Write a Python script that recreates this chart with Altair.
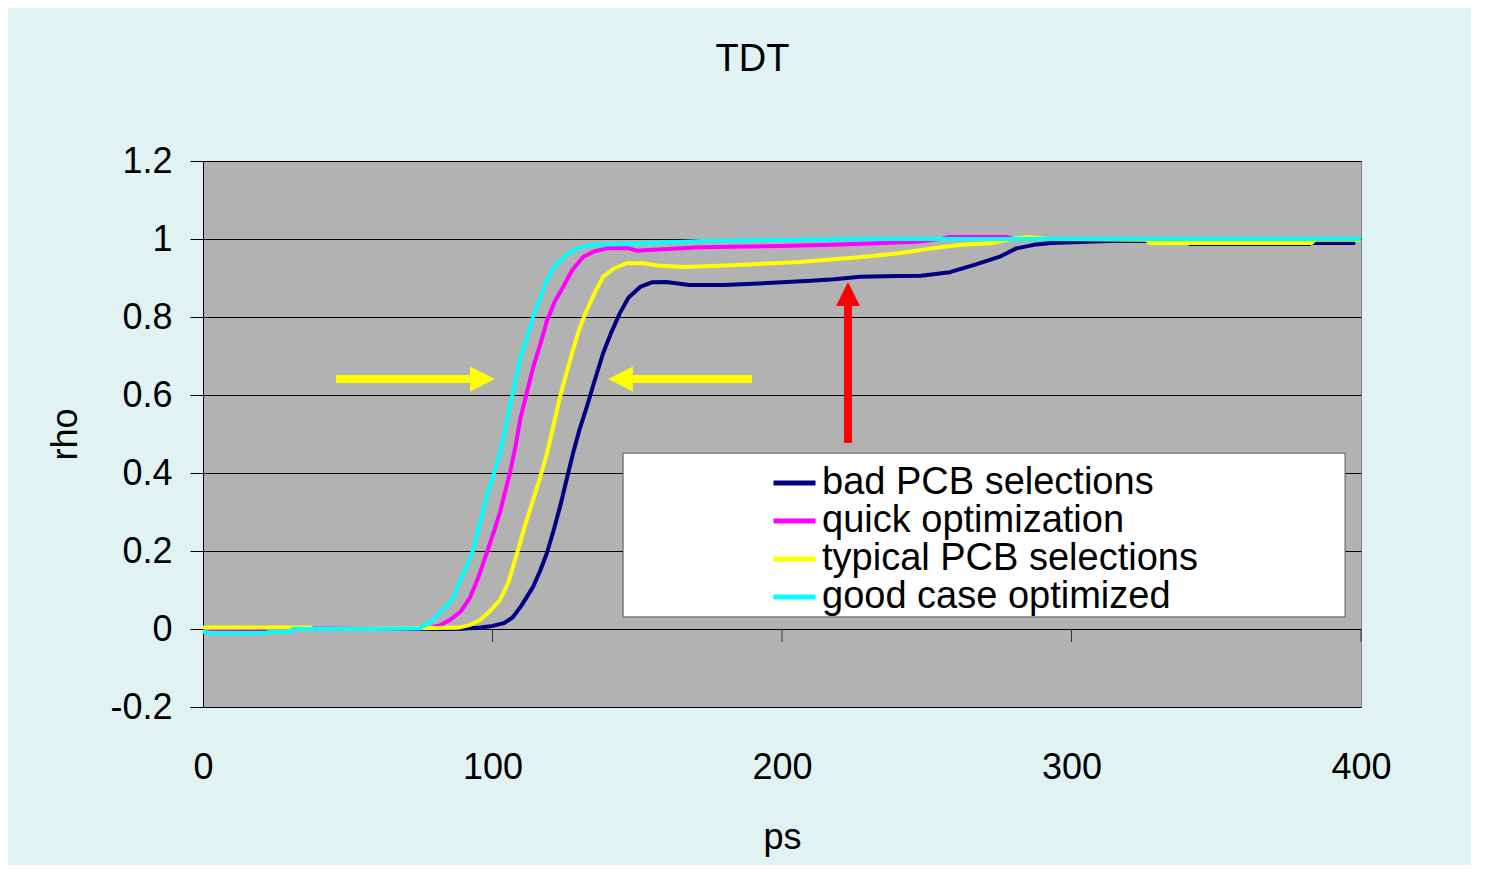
import altair as alt
import pandas as pd

# ---------------- data ----------------
series_names = ["bad PCB selections", "quick optimization",
                "typical PCB selections", "good case optimized"]
series_colors = ["#000080", "#FF00FF", "#FFFF00", "#00FFFF"]

ps_bad = [0, 88, 96, 100, 104, 107, 110, 114, 116.5, 118.8, 121, 123.3, 125.5,
          127.8, 130, 132.6, 135, 138.2, 141, 144, 147, 151, 155, 160, 168, 180,
          195, 210, 218, 227, 240, 248, 258, 267, 275, 281, 287, 293, 313, 340,
          341, 382, 383, 398]
rho_bad = [0, 0, 0.004, 0.008, 0.015, 0.03, 0.06, 0.108, 0.15, 0.195, 0.25, 0.313,
           0.38, 0.45, 0.51, 0.57, 0.63, 0.707, 0.76, 0.81, 0.85, 0.877, 0.889,
           0.89, 0.882, 0.882, 0.887, 0.893, 0.897, 0.903, 0.905, 0.906, 0.915,
           0.935, 0.954, 0.976, 0.985, 0.99, 0.995, 0.995, 0.987, 0.987, 0.99,
           0.99]

ps_quick = [0, 78, 82, 85.3, 89, 92.2, 95, 98, 100.5, 102.6, 106, 108, 109.5, 112,
            114, 116.5, 118.8, 121.5, 124.4, 127.5, 131.3, 135, 139.5, 147, 150,
            154, 171.7, 200, 217.6, 235, 246.6, 255, 258, 278, 280, 400]
rho_quick = [0, 0.002, 0.01, 0.023, 0.045, 0.08, 0.13, 0.195, 0.25, 0.30, 0.40,
             0.47, 0.535, 0.61, 0.67, 0.73, 0.79, 0.84, 0.877, 0.92, 0.954, 0.968,
             0.976, 0.976, 0.97, 0.972, 0.979, 0.982, 0.985, 0.99, 0.993, 1.0,
             1.005, 1.005, 1.0, 1.0]

ps_typ = [0, 37, 38, 88, 92, 95.7, 99, 102.6, 105.5, 108.5, 111, 114, 116.5,
          118.8, 121, 123.3, 125.5, 127.8, 130, 132.6, 135.5, 138.2, 142, 146.5,
          152, 157, 166, 183, 206, 223.5, 232, 240.8, 252, 262, 273, 279, 285,
          292, 326, 327, 383, 384, 400]
rho_typ = [0.004, 0.004, 0.0, 0.003, 0.01, 0.023, 0.045, 0.074, 0.12, 0.195, 0.26,
           0.33, 0.39, 0.45, 0.52, 0.595, 0.655, 0.715, 0.77, 0.818, 0.865, 0.903,
           0.925, 0.938, 0.938, 0.932, 0.928, 0.933, 0.941, 0.951, 0.957, 0.964,
           0.976, 0.985, 0.99, 1.0, 1.005, 1.0, 0.998, 0.99, 0.99, 0.998, 0.998]

ps_good = [0, 3, 22, 23, 30, 31, 60, 75, 79, 86, 93, 98, 102.6, 106, 109.5, 114,
           118.8, 122, 125.7, 130, 135, 150, 172, 233, 400]
rho_good = [-0.007, -0.01, -0.01, -0.007, -0.007, 0.0, 0.0, 0.002, 0.02, 0.074,
            0.195, 0.34, 0.45, 0.57, 0.69, 0.80, 0.895, 0.935, 0.96, 0.978, 0.985,
            0.988, 0.995, 1.0, 1.0]

x_ticks = [0, 100, 200, 300, 400]
y_ticks = [-0.2, 0, 0.2, 0.4, 0.6, 0.8, 1.0, 1.2]
x_minor_ticks = [100, 200, 300, 400]

# annotations (data units)
legend_box_ps = [145.1, 394.5]
legend_box_rho = [0.451, 0.031]
yarrow_rho = 0.641
left_arrow = [45.9, 92.2, 100.9]    # shaft start, head base, tip
right_arrow = [189.6, 148.5, 139.9]
red_arrow_ps = 222.8
red_arrow = [0.477, 0.831, 0.887]

# ---------------- geometry ----------------
W, H = 1158, 546
PX_PER_RHO = H / 1.4
tick_depth = -13 / PX_PER_RHO

rows = []
for name, xs, ys in zip(series_names, [ps_bad, ps_quick, ps_typ, ps_good],
                        [rho_bad, rho_quick, rho_typ, rho_good]):
    for x, y in zip(xs, ys):
        rows.append({"series": name, "ps": x, "rho": y})
df = pd.DataFrame(rows)

FONT = "Liberation Sans"
xscale = alt.Scale(domain=[0, 400], nice=False, zero=False)
yscale = alt.Scale(domain=[-0.2, 1.2], nice=False, zero=False)

lines = alt.Chart(df).mark_line(strokeWidth=4, strokeJoin="round").encode(
    x=alt.X("ps:Q", scale=xscale,
            axis=alt.Axis(title="ps", values=x_ticks, labelFontSize=36,
                          ticks=False, domain=False, grid=False, labelPadding=43,
                          labelFlush=False, labelOverlap=False,
                          titleFontSize=36, titleX=W / 2, titleY=141,
                          titleBaseline="alphabetic", titleAlign="center")),
    y=alt.Y("rho:Q", scale=yscale,
            axis=alt.Axis(title="rho", values=y_ticks,
                          labelExpr="'' + datum.value", labelFontSize=36,
                          tickSize=13, tickColor="black", domainColor="black",
                          gridColor="black", gridWidth=1, labelPadding=18,
                          titleFontSize=36, titleX=-138, titleY=H / 2,
                          titleAngle=270, titleAlign="center",
                          titleBaseline="middle")),
    color=alt.Color("series:N",
                    scale=alt.Scale(domain=series_names, range=series_colors),
                    legend=alt.Legend(title=None, orient="none", legendX=572.5,
                                      legendY=303, symbolType="M-2,0L2,0",
                                      symbolSize=441, symbolStrokeWidth=5,
                                      labelFontSize=38, labelFont=FONT,
                                      labelColor="black", labelOffset=8.5,
                                      rowPadding=0, padding=0,
                                      labelLimit=700)),
)

box_df = pd.DataFrame({"ps": [legend_box_ps[0]], "ps2": [legend_box_ps[1]],
                       "rho": [legend_box_rho[0]], "rho2": [legend_box_rho[1]]})
box = alt.Chart(box_df).mark_rect(fill="white", stroke="#555555",
                                  strokeWidth=1).encode(
    x=alt.X("ps:Q", scale=xscale), x2="ps2:Q",
    y=alt.Y("rho:Q", scale=yscale), y2="rho2:Q")

tick_df = pd.DataFrame({"ps": x_minor_ticks, "rho": [0] * len(x_minor_ticks),
                        "rho2": [tick_depth] * len(x_minor_ticks)})
ticks = alt.Chart(tick_df).mark_rule(color="#333333", strokeWidth=1).encode(
    x=alt.X("ps:Q", scale=xscale), y=alt.Y("rho:Q", scale=yscale), y2="rho2:Q")

hshaft_df = pd.DataFrame({"ps": [left_arrow[0], right_arrow[0]],
                          "ps2": [left_arrow[1], right_arrow[1]],
                          "rho": [yarrow_rho, yarrow_rho]})
hshafts = alt.Chart(hshaft_df).mark_rule(color="#FFFF00", strokeWidth=8,
                                         strokeCap="butt").encode(
    x=alt.X("ps:Q", scale=xscale), x2="ps2:Q", y=alt.Y("rho:Q", scale=yscale))

head_r_df = pd.DataFrame({"ps": [(left_arrow[1] + left_arrow[2]) / 2],
                          "rho": [yarrow_rho]})
head_r = alt.Chart(head_r_df).mark_point(shape="M-1,-1L1,0L-1,1Z", filled=True,
                                         size=625, opacity=1,
                                         color="#FFFF00").encode(
    x=alt.X("ps:Q", scale=xscale), y=alt.Y("rho:Q", scale=yscale))

head_l_df = pd.DataFrame({"ps": [(right_arrow[1] + right_arrow[2]) / 2],
                          "rho": [yarrow_rho]})
head_l = alt.Chart(head_l_df).mark_point(shape="M1,-1L-1,0L1,1Z", filled=True,
                                         size=625, opacity=1,
                                         color="#FFFF00").encode(
    x=alt.X("ps:Q", scale=xscale), y=alt.Y("rho:Q", scale=yscale))

vshaft_df = pd.DataFrame({"ps": [red_arrow_ps], "rho": [red_arrow[0]],
                          "rho2": [red_arrow[1]]})
vshaft = alt.Chart(vshaft_df).mark_rule(color="#FF0000", strokeWidth=8,
                                        strokeCap="butt").encode(
    x=alt.X("ps:Q", scale=xscale), y=alt.Y("rho:Q", scale=yscale), y2="rho2:Q")

head_u_df = pd.DataFrame({"ps": [red_arrow_ps],
                          "rho": [(red_arrow[1] + red_arrow[2]) / 2]})
head_u = alt.Chart(head_u_df).mark_point(shape="M-1,1L0,-1L1,1Z", filled=True,
                                         size=576, opacity=1,
                                         color="#FF0000").encode(
    x=alt.X("ps:Q", scale=xscale), y=alt.Y("rho:Q", scale=yscale))

chart = alt.layer(lines, box, ticks, hshafts, head_r, head_l, vshaft, head_u).properties(
    width=W, height=H,
    background="#E1F2F2",
    padding={"left": 195, "top": 153, "right": 110, "bottom": 158},
    autosize=alt.AutoSizeParams(type="none"),
    title=alt.TitleParams("TDT", fontSize=38, font=FONT, fontWeight="normal",
                          color="black", anchor="middle", dx=-29.5, dy=44,
                          offset=78, baseline="alphabetic"),
).configure_view(fill="#B2B2B2", stroke="#808080", strokeWidth=1
).configure_axis(labelFont=FONT, titleFont=FONT, labelColor="black",
                 titleColor="black", titleFontWeight="normal")

chart.save("out.html", embed_options={"renderer": "svg", "actions": False})
